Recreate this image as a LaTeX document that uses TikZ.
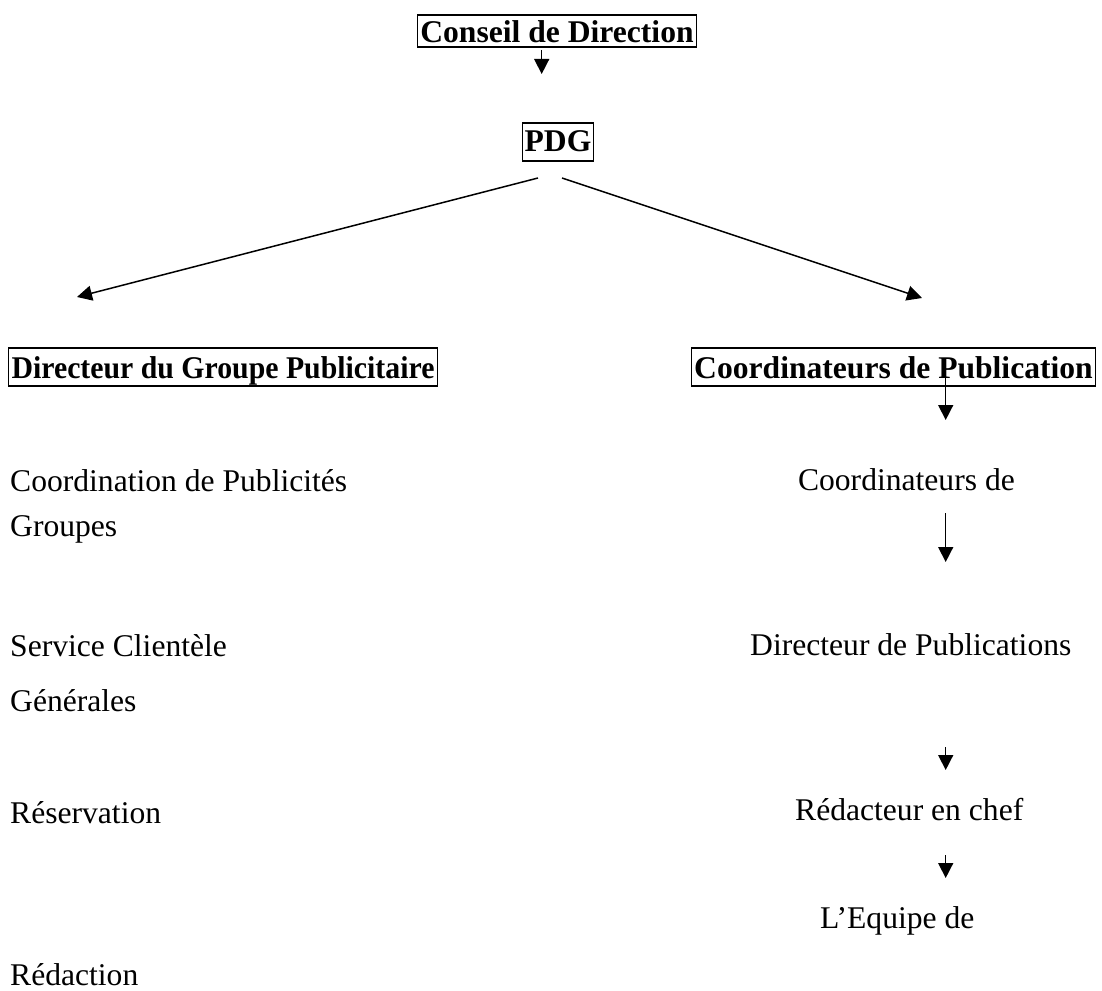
\documentclass[tikz,border=0pt]{standalone}
\usepackage{fontspec}
\setmainfont{Liberation Serif}
\usetikzlibrary{arrows.meta}
\begin{document}
\begin{tikzpicture}[x=1pt,y=-1pt,
  every node/.style={font=\fontsize{31.6}{36}\selectfont, inner sep=0pt},
  titlebox/.style={draw, line width=1.4pt, font=\fontsize{31.6}{36}\selectfont\bfseries, inner xsep=3pt, inner ysep=0pt},
  label/.style={anchor=base west},
  flow/.style={line width=1.5pt, -{Triangle[length=15pt,width=15pt]}}]
\useasboundingbox[fill=white] (0,0) rectangle (1102,990);

% boxed headings
\node[titlebox, text height=27.7pt, text depth=4.3pt] (conseil) at (557,31) {Conseil de Direction};
\node[titlebox, inner xsep=2pt, text height=28pt, text depth=10pt] (pdg) at (558,142) {PDG};
\node[titlebox, text height=30pt, text depth=8pt] (dgp) at (223,367) {\scalebox{0.943}[1]{Directeur du Groupe Publicitaire}};
\node[titlebox, text height=30pt, text depth=8pt] (coord) at (893.5,367) {Coordinateurs de Publication};

% left column
\node[label] (cpub) at (10,491.7) {Coordination de Publicités};
\node[label] (grp) at (10,536) {Groupes};
\node[label] (serv) at (10,656) {Service Clientèle};
\node[label] (gen) at (10,711) {Générales};
\node[label] (resa) at (10,823) {Réservation};
\node[label] (redac) at (10,985) {Rédaction};

% right column
\node[anchor=base east] (coordde) at (1015,490) {Coordinateurs de};
\node[anchor=base west] (dirpub) at (750,655) {Directeur de Publications};
\node[anchor=base west] (redchef) at (795,820) {Rédacteur en chef};
\node[anchor=base west] (equipe) at (820,928) {L’Equipe de};

% arrow end points
\coordinate (c1a) at (541.7,50);   \coordinate (c1b) at (541.7,74);
\coordinate (lfa) at (538,178);    \coordinate (lfb) at (77,297);
\coordinate (rta) at (562,178);    \coordinate (rtb) at (922,298);
\coordinate (r1a) at (945.7,370);  \coordinate (r1b) at (945.7,420);
\coordinate (r2a) at (945.7,513);  \coordinate (r2b) at (945.7,562);
\coordinate (r3a) at (945.7,747);  \coordinate (r3b) at (945.7,770);
\coordinate (r4a) at (945.7,855);  \coordinate (r4b) at (945.7,878);

\draw[flow] (c1a) -- (c1b);
\draw[flow] (lfa) -- (lfb);
\draw[flow] (rta) -- (rtb);
\draw[flow] (r1a) -- (r1b);
\draw[flow] (r2a) -- (r2b);
\draw[flow] (r3a) -- (r3b);
\draw[flow] (r4a) -- (r4b);
\end{tikzpicture}
\end{document}
